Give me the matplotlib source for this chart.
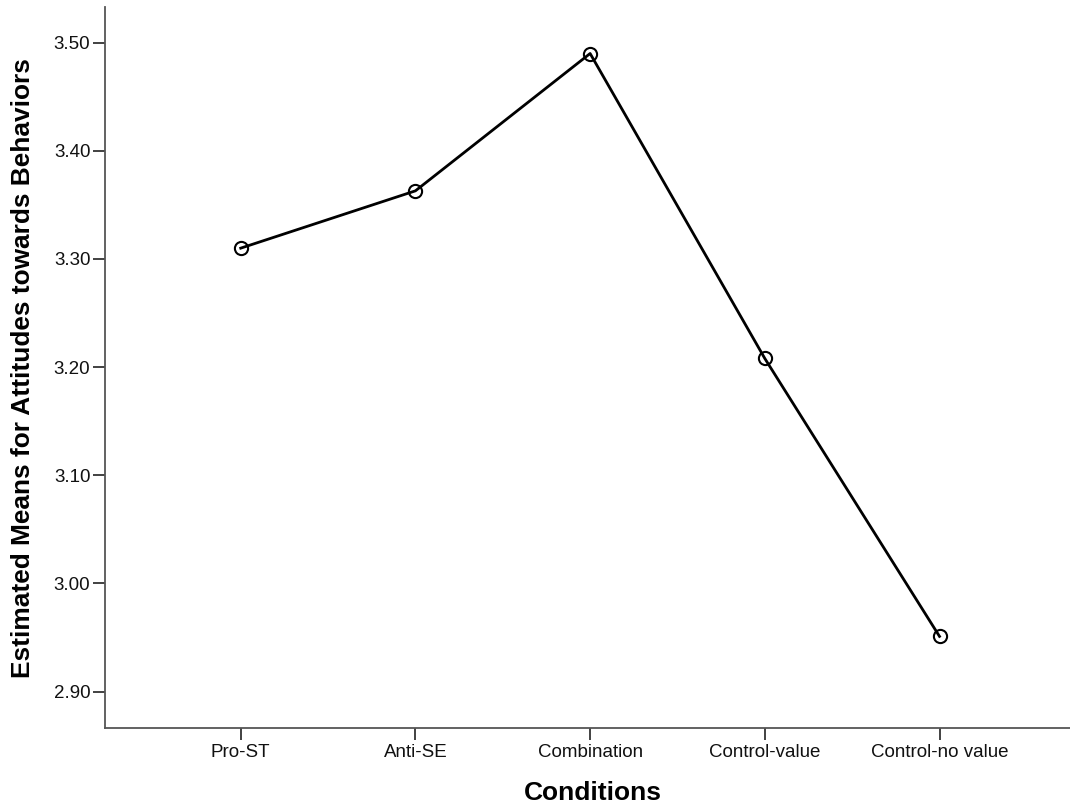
import matplotlib
matplotlib.use("Agg")
import matplotlib.pyplot as plt

# data
conditions = ["Pro-ST", "Anti-SE", "Combination", "Control-value", "Control-no value"]
means = [3.310, 3.363, 3.490, 3.208, 2.951]
y_ticks = [2.90, 3.00, 3.10, 3.20, 3.30, 3.40, 3.50]

plt.rcParams["font.family"] = ["Liberation Sans", "DejaVu Sans"]

fig = plt.figure(figsize=(10.7, 8.11), dpi=100)
# right edge runs a bit past the figure, like the cropped original
ax = fig.add_axes([105 / 1070, 1 - 728.3 / 811, 976 / 1070, 721.3 / 811])

x = list(range(1, len(conditions) + 1))
ax.plot(x, means, color="black", linewidth=2.0, marker="o", markersize=9.5,
        markerfacecolor="none", markeredgecolor="black", markeredgewidth=1.5)

ax.set_xlim(0.223, 5.81)
ax.set_ylim(2.866, 3.533)
ax.set_xticks(x)
ax.set_xticklabels(conditions)
ax.set_yticks(y_ticks)
ax.set_yticklabels(["%.2f" % t for t in y_ticks])

for side in ["top", "right"]:
    ax.spines[side].set_visible(False)
for side in ["left", "bottom"]:
    ax.spines[side].set_color("#555555")
    ax.spines[side].set_linewidth(1.3)

ax.tick_params(axis="both", length=8.5, width=1.3, color="#333333",
               labelsize=13.5, labelcolor="#111111")
ax.tick_params(axis="y", pad=2)
ax.tick_params(axis="x", pad=3)

ax.set_ylabel("Estimated Means for Attitudes towards Behaviors",
              fontsize=18.9, fontweight="bold")
ax.yaxis.set_label_coords((35 - 105) / 976, 0.5)
ax.set_xlabel("Conditions", fontsize=19, fontweight="bold")
ax.xaxis.set_label_coords((593 - 105) / 976, (728.3 - 781) / 721.3)

fig.savefig("out.png", dpi=100)
